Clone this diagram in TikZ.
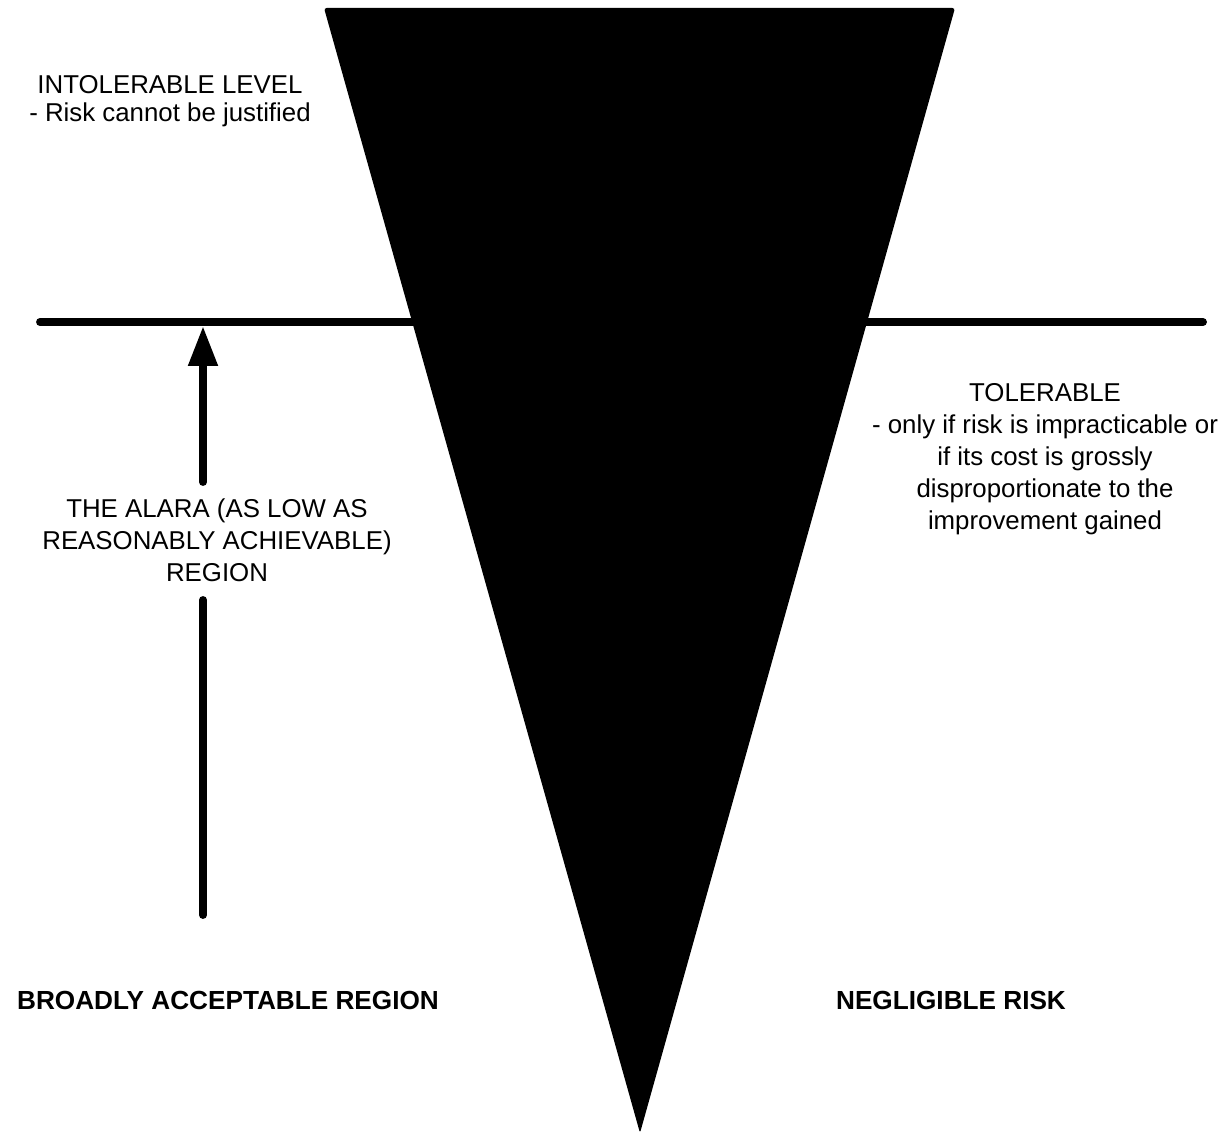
\documentclass[tikz,border=0pt]{standalone}
\usepackage{fontspec}
\setmainfont{Liberation Sans}
\usetikzlibrary{arrows.meta}

\begin{document}
\begin{tikzpicture}[x=0.02cm,y=-0.02cm,
	note/.style={align=center,inner sep=0pt,font=\fontsize{14.7}{18.2}\selectfont},
	region/.style={inner sep=0pt,font=\bfseries\fontsize{14.9}{18}\selectfont},
	thickline/.style={line width=4.5pt,line cap=round}]
	\useasboundingbox (0,0) rectangle (1225,1135);

	\coordinate (lineW) at (40,322);
	\coordinate (lineE) at (1203,322);
	\draw[thickline] (lineW) -- (lineE);
	\fill[rounded corners=1.5pt] (324,8) -- (955,8) -- (640,1133) -- cycle;

	\path (170,101) node[note,font=\fontsize{14.7}{16.2}\selectfont] (intol) {INTOLERABLE LEVEL\\- Risk cannot be justified};
	\path (1045,459) node[note] (toler) {TOLERABLE\\- only if risk is impracticable or\\if its cost is grossly\\disproportionate to the\\improvement gained};
	\path (217,540) node[note] (alara) {THE ALARA (AS LOW AS\\REASONABLY ACHIEVABLE)\\REGION};

	\coordinate (base) at (203,915);
	\coordinate (shaftlow) at (203,600);
	\coordinate (shafthigh) at (203,482);
	\coordinate (tip) at (203,326);
	\draw[thickline] (base) -- (shaftlow);
	\draw[thickline,-{Triangle[width=0.56cm,length=0.8cm]}] (shafthigh) -- (tip);

	\path (228,1000) node[region] (broad) {BROADLY ACCEPTABLE REGION};
	\path (951,1000) node[region] (neglig) {NEGLIGIBLE RISK};
\end{tikzpicture}
\end{document}
